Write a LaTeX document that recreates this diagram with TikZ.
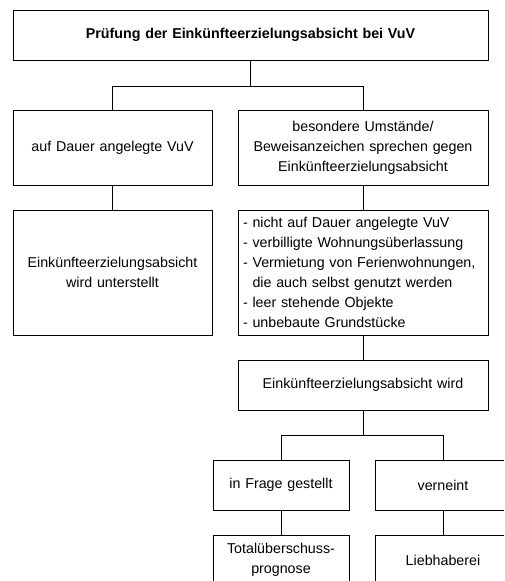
\documentclass[tikz,border=0pt]{standalone}
\usepackage{fontspec}
\setmainfont{Liberation Sans}
\usepackage{tikz}
\tikzset{kasten/.style={draw, rectangle, align=center, inner xsep=0.125cm, minimum height=1.25cm}}

\begin{document}
\begin{tikzpicture}[line width=0.7pt, font=\fontsize{10.15}{14.2}\selectfont]
\useasboundingbox (0,0) rectangle (12.6,-14.525);
\clip (0,0) rectangle (12.6,-14.525);
\node[kasten, text width=11.625cm] (pruefung) at (6.2625,-0.875) {\textbf{Prüfung der Einkünfteerzielungsabsicht bei VuV}};

\node[kasten, text width=4.725cm, minimum height=1.875cm] (dauer) at (2.8125,-3.6875) {auf Dauer angelegte VuV};
\node[kasten, text width=6cm, minimum height=1.875cm] (umstaende) at (9.075,-3.6875) {besondere Umstände/\\Beweisanzeichen sprechen gegen\\Einkünfteerzielungsabsicht};

\node[kasten, text width=4.725cm, minimum height=3.125cm] (unterstellt) at (2.8125,-6.8125) {Einkünfteerzielungsabsicht\\wird unterstellt};
\node[kasten, text width=6cm, minimum height=3.125cm, align=left] (liste) at (9.075,-6.8125) {- nicht auf Dauer angelegte VuV\\- verbilligte Wohnungsüberlassung\\- Vermietung von Ferienwohnungen,\\\phantom{- }die auch selbst genutzt werden\\- leer stehende Objekte\\- unbebaute Grundstücke};

\node[kasten, text width=6cm] (wird) at (9.075,-9.625) {Einkünfteerzielungsabsicht wird};

\node[kasten, text width=3.15cm] (frage) at (7.025,-12.125) {in Frage gestellt};
\node[kasten, text width=3.15cm] (verneint) at (11.075,-12.125) {verneint};
\node[kasten, text width=3.15cm] (prognose) at (7.025,-14) {Totalüberschuss-\\prognose};
\node[kasten, text width=3.15cm] (liebhaberei) at (11.075,-14) {Liebhaberei};

\draw (pruefung.south) -- ++(0,-0.65) -| (dauer.north);
\draw (pruefung.south) -- ++(0,-0.65) -| (umstaende.north);
\draw (dauer) -- (unterstellt);
\draw (umstaende) -- (liste);
\draw (liste) -- (wird);
\draw (wird.south) -- ++(0,-0.625) -| (frage.north);
\draw (wird.south) -- ++(0,-0.625) -| (verneint.north);
\draw (frage) -- (prognose);
\draw (verneint) -- (liebhaberei);
\end{tikzpicture}
\end{document}
